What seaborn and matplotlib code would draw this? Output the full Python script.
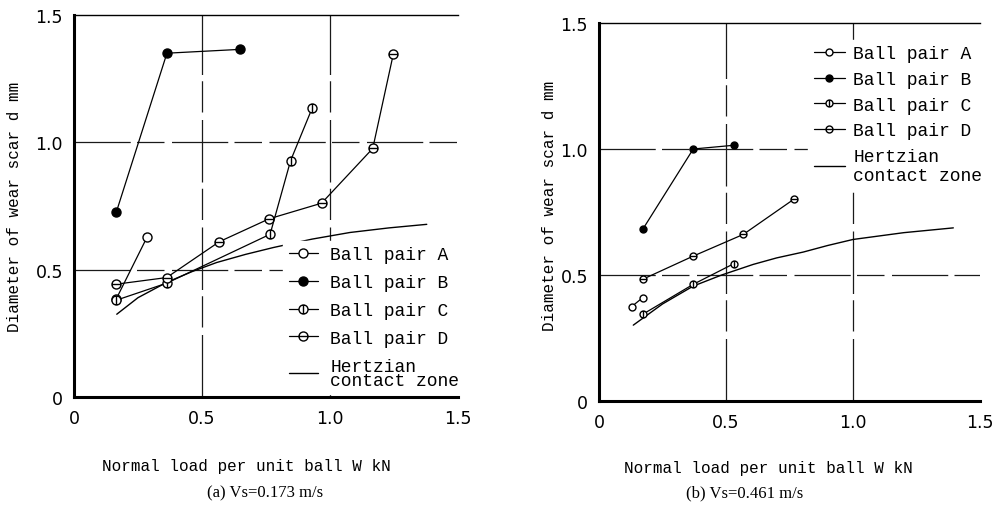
import numpy as np
import pandas as pd
import matplotlib
matplotlib.use("Agg")
import matplotlib.pyplot as plt
from matplotlib.path import Path
import seaborn as sns

# ---------------- data ----------------
# (a) Vs = 0.173 m/s
a_A_x = [0.165, 0.285]
a_A_y = [0.385, 0.627]
a_B_x = [0.165, 0.363, 0.648]
a_B_y = [0.725, 1.350, 1.365]
a_C_x = [0.165, 0.362, 0.766, 0.846, 0.931]
a_C_y = [0.380, 0.447, 0.639, 0.928, 1.136]
a_D_x = [0.165, 0.362, 0.568, 0.763, 0.967, 1.167, 1.247]
a_D_y = [0.443, 0.469, 0.610, 0.700, 0.761, 0.976, 1.345]
a_H_x = [0.167, 0.25, 0.362, 0.46, 0.557, 0.67, 0.779, 0.93, 1.078, 1.23, 1.378]
a_H_y = [0.325, 0.390, 0.450, 0.492, 0.528, 0.560, 0.587, 0.620, 0.646, 0.664, 0.678]

# (b) Vs = 0.461 m/s
b_A_x = [0.129, 0.172]
b_A_y = [0.375, 0.410]
b_B_x = [0.172, 0.371, 0.533]
b_B_y = [0.681, 1.000, 1.015]
b_C_x = [0.172, 0.371, 0.531]
b_C_y = [0.344, 0.463, 0.545]
b_D_x = [0.172, 0.371, 0.568, 0.769]
b_D_y = [0.483, 0.575, 0.661, 0.802]
b_H_x = [0.135, 0.25, 0.371, 0.483, 0.607, 0.70, 0.804, 0.90, 1.0, 1.2, 1.395]
b_H_y = [0.301, 0.385, 0.456, 0.500, 0.542, 0.568, 0.591, 0.617, 0.641, 0.668, 0.687]

series_labels = ["Ball pair A", "Ball pair B", "Ball pair C", "Ball pair D"]
hertz_label = "Hertzian\ncontact zone"
ticks = [0, 0.5, 1.0, 1.5]
tick_labels = ["0", "0.5", "1.0", "1.5"]
grid_vals = [0.5, 1.0]
xlabel = "Normal load per unit ball W kN"
ylabel = "Diameter of wear scar d mm"
captions = ["(a) Vs=0.173 m/s", "(b) Vs=0.461 m/s"]

# ---------------- style ----------------
sns.set_theme(style="white")
plt.rcParams["font.family"] = ["DejaVu Sans"]

circ = Path.unit_circle()
mk_open = "o"
mk_vbar = Path.make_compound_path(circ, Path([(0, -1), (0, 1)], [Path.MOVETO, Path.LINETO]))
mk_hbar = Path.make_compound_path(circ, Path([(-1, 0), (1, 0)], [Path.MOVETO, Path.LINETO]))

fig = plt.figure(figsize=(10.08, 5.10), dpi=100)
ax1 = fig.add_axes([74 / 1008, 1 - 398 / 510, 384 / 1008, 382 / 510])
ax2 = fig.add_axes([599 / 1008, 1 - 402 / 510, 381 / 1008, 378 / 510])

mono = "Liberation Mono"


def draw(ax, data, msize, leg_kw, linesp):
    styles = [
        dict(marker=mk_open, markerfacecolor="white"),
        dict(marker="o", markerfacecolor="black"),
        dict(marker=mk_vbar, markerfacecolor="white"),
        dict(marker=mk_hbar, markerfacecolor="white"),
    ]
    for (xs, ys), lab, st in zip(data[:4], series_labels, styles):
        df = pd.DataFrame({"x": xs, "y": ys})
        sns.lineplot(data=df, x="x", y="y", ax=ax, color="black", lw=0.9,
                     markersize=msize, markeredgecolor="black", mew=1.0,
                     label=lab, errorbar=None, zorder=3, **st)
    hx, hy = data[4]
    dfh = pd.DataFrame({"x": hx, "y": hy})
    sns.lineplot(data=dfh, x="x", y="y", ax=ax, color="black", lw=1.0,
                 label=hertz_label, errorbar=None, zorder=2)

    for g in grid_vals:
        ax.axhline(g, color="#1a1a1a", lw=0.9, ls=(0, (45, 5, 22, 6)), zorder=1)
        ax.axvline(g, color="#1a1a1a", lw=0.9, ls=(0, (50, 6, 25, 5)), zorder=1)

    ax.set_xlim(0, 1.5)
    ax.set_ylim(0, 1.5)
    ax.set_xticks(ticks)
    ax.set_xticklabels(tick_labels)
    ax.set_yticks(ticks)
    ax.set_yticklabels(tick_labels)
    ax.tick_params(length=0, labelsize=12.5, colors="black")
    ax.tick_params(axis="x", pad=9)
    ax.tick_params(axis="y", pad=8)
    for s in ["left", "bottom"]:
        ax.spines[s].set_linewidth(2.2)
        ax.spines[s].set_color("black")
    ax.spines["top"].set_linewidth(1.0)
    ax.spines["top"].set_color("black")
    ax.spines["right"].set_visible(False)
    ax.set_xlabel(xlabel, fontfamily=mono, fontsize=11.5, color="black")
    ax.set_ylabel(ylabel, fontfamily=mono, fontsize=11.5, color="black")

    leg = ax.legend(frameon=True, facecolor="white", edgecolor="white",
                    framealpha=1.0, fancybox=False, numpoints=1,
                    prop={"family": mono, "size": 13},
                    borderaxespad=0, borderpad=0.3, **leg_kw)
    for t in leg.get_texts():
        t.set_linespacing(linesp)
        t.set_color("black")
    leg.set_zorder(5)


draw(ax1, [(a_A_x, a_A_y), (a_B_x, a_B_y), (a_C_x, a_C_y), (a_D_x, a_D_y), (a_H_x, a_H_y)],
     6.5,
     dict(loc="upper left", bbox_to_anchor=(0.545, 0.409), handlelength=1.6,
          handletextpad=0.7, labelspacing=0.6),
     0.8)
draw(ax2, [(b_A_x, b_A_y), (b_B_x, b_B_y), (b_C_x, b_C_y), (b_D_x, b_D_y), (b_H_x, b_H_y)],
     5.0,
     dict(loc="upper left", bbox_to_anchor=(0.549, 0.955), handlelength=1.75,
          handletextpad=0.45, labelspacing=0.48),
     1.15)

ax1.xaxis.set_label_coords(0.448, -0.16)
ax1.yaxis.set_label_coords(-0.135, 0.50)
ax2.xaxis.set_label_coords(0.444, -0.156)
ax2.yaxis.set_label_coords(-0.11, 0.52)

fig.text(265 / 1008, 1 - 493 / 510, captions[0], ha="center", va="center",
         fontfamily="Liberation Serif", fontsize=12, color="black")
fig.text(745 / 1008, 1 - 493 / 510, captions[1], ha="center", va="center",
         fontfamily="Liberation Serif", fontsize=12, color="black")

fig.savefig("out.png", dpi=100)
